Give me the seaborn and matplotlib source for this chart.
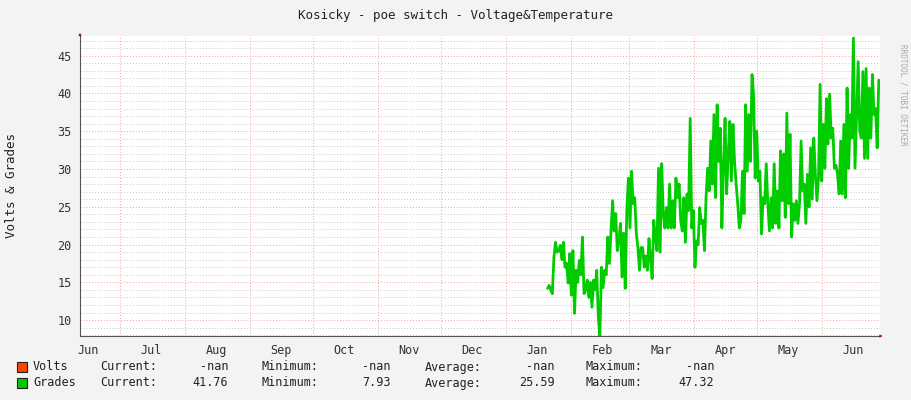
import numpy as np
import pandas as pd
import matplotlib
matplotlib.use("Agg")
import matplotlib.pyplot as plt
import seaborn as sns

grades = [14.2, 14.6, 14.0, 13.5, 18.3, 20.3, 19.0, 19.2, 19.9, 18.0, 20.3, 17.0, 17.5, 14.9, 18.8, 13.3,
          19.2, 10.9, 16.6, 15.0, 17.9, 16.0, 21.0, 13.5, 14.0, 15.3, 13.0, 15.0, 11.7, 15.3, 14.0, 16.6,
          10.4, 7.93, 17.0, 14.3, 16.6, 16.0, 21.0, 17.5, 21.8, 25.8, 21.8, 24.1, 19.2, 20.5, 22.8, 15.7,
          21.5, 14.2, 24.5, 28.8, 22.2, 29.7, 25.4, 26.2, 21.5, 19.6, 16.6, 19.6,
          19.6, 17.0, 18.5, 16.6, 20.8, 18.0, 15.5, 23.2, 21.0, 19.2, 30.1, 19.0, 30.7, 24.1, 22.2, 24.9,
          22.2, 28.0, 22.2, 25.8, 22.2, 28.8, 26.2, 28.0, 23.2, 21.8, 26.2, 20.3, 26.7, 24.5, 36.7, 22.2,
          24.5, 17.0, 20.5, 20.0, 24.9, 22.8, 23.2, 19.2, 26.2, 30.1, 27.1, 33.7, 28.0, 37.2, 26.2, 38.5,
          31.0, 35.4, 22.2, 30.1, 36.7, 26.7, 32.0, 36.3, 28.4, 35.9, 31.0, 28.0, 25.4, 22.2, 23.2, 29.7,
          24.1, 38.5, 29.7, 37.2, 31.0, 42.5, 39.9, 28.8, 35.0, 28.4, 29.7, 21.4, 26.2, 25.4, 30.7,
          25.4, 21.8, 26.2, 22.2, 30.7, 22.8, 27.1, 22.2, 32.4, 25.8, 32.0, 23.6, 37.4, 25.4, 34.6, 21.0,
          25.4, 23.2, 25.8, 22.8, 25.4, 33.7, 27.1, 28.0, 22.8, 29.3, 25.0, 32.8, 26.0, 34.1, 29.3, 25.8,
          29.0, 41.2, 28.4, 35.9, 30.1, 39.3, 33.3, 39.9, 34.1, 35.4, 30.1, 30.5, 29.3, 26.7, 33.7, 26.7,
          35.9, 26.2, 40.7, 30.1, 37.2, 34.1, 47.32, 30.1, 37.2, 44.2, 35.0, 34.1, 42.9, 31.4, 43.3, 31.4,
          40.7, 34.1, 42.5, 37.2, 38.0, 32.8, 41.76]
month_starts = [0, 31, 62, 92, 123, 153, 184, 215, 243, 274, 304, 335]
month_labels = ["Jun", "Jul", "Aug", "Sep", "Oct", "Nov", "Dec", "Jan", "Feb", "Mar", "Apr", "May", "Jun"]
label_pos = [-15] + [m + 15 for m in month_starts]
yticks = [10, 15, 20, 25, 30, 35, 40, 45]

W, H = 911, 400
L, R, T, B = 80, 880, 36, 336
ppd = 2.096
xmin = (L - 120) / ppd
xmax = (R - 120) / ppd
ymin, ymax = 7.9, 47.6

df = pd.DataFrame({"day": np.linspace(204, 362, len(grades)), "Grades": grades})

sns.set_style("white")
plt.rcParams["font.family"] = ["DejaVu Sans Mono"]
fig = plt.figure(figsize=(W / 100, H / 100), dpi=100, facecolor="#F3F3F3")
ax = fig.add_axes([L / W, 1 - B / H, (R - L) / W, (B - T) / H])
ax.set_facecolor("white")

for v in np.arange(8, 48):
    if v % 5:
        ax.axhline(v, color="#C8C8C8", lw=0.7, ls=(0, (1, 2)), zorder=1)
for v in yticks:
    ax.axhline(v, color="#F0A0A0", lw=0.7, ls=(0, (1, 2)), zorder=1)
for m in month_starts:
    ax.axvline(m, color="#F0A0A0", lw=0.7, ls=(0, (1, 2)), zorder=1)

sns.lineplot(data=df, x="day", y="Grades", color="#00CC00", lw=2, ax=ax, zorder=3)

ax.set_xlim(xmin, xmax)
ax.set_ylim(ymin, ymax)
ax.set_xticks(label_pos)
ax.set_xticklabels(month_labels)
ax.set_yticks(yticks)
ax.tick_params(axis="both", length=0, labelsize=8.5, colors="#333333", pad=6)
ax.set_xlabel("")
ax.set_ylabel("")
for s in ["top", "right"]:
    ax.spines[s].set_visible(False)
for s in ["left", "bottom"]:
    ax.spines[s].set_color("#555555")
    ax.spines[s].set_linewidth(0.8)
ax.annotate("", xy=(R / W + 0.006, 1 - B / H), xycoords="figure fraction", xytext=(L / W, 1 - B / H),
            arrowprops=dict(arrowstyle="-|>", color="#881111", lw=0, mutation_scale=6))
ax.annotate("", xy=(L / W, 1 - (T - 6) / H), xycoords="figure fraction", xytext=(L / W, 1 - B / H),
            arrowprops=dict(arrowstyle="-|>", color="#881111", lw=0, mutation_scale=6))

def ft(x, y, s, size=8.5, **kw):
    fig.text(x / W, 1 - y / H, s, fontsize=size, color="#222222", va="center", **kw)

ft(455, 15, "Kosicky - poe switch - Voltage&Temperature", size=9, ha="center")
ft(12, 185, "Volts & Grades", size=9, ha="center", rotation=90)
fig.text(903 / W, 1 - 95 / H, "RRDTOOL / TOBI OETIKER", rotation=270, fontsize=5.5,
         color="#AAAAAA", ha="center", va="center")

rows = [("Volts", "#FF4400", ["-nan", "-nan", "-nan", "-nan"], 367),
        ("Grades", "#00CC00", ["41.76", "7.93", "25.59", "47.32"], 383)]
names = ["Current:", "Minimum:", "Average:", "Maximum:"]
name_x = [100, 262, 425, 586]
val_end = [228, 391, 555, 714]
for lab, col, vals, y in rows:
    fig.patches.append(plt.Rectangle((17 / W, 1 - (y + 5) / H), 10 / W, 10 / H,
                                     transform=fig.transFigure, facecolor=col, edgecolor="#222222", lw=0.8))
    ft(33, y, lab)
    for n, nx, v, ve in zip(names, name_x, vals, val_end):
        ft(nx, y, n)
        ft(ve, y, v, ha="right")

fig.savefig("out.png", dpi=100, facecolor=fig.get_facecolor())
